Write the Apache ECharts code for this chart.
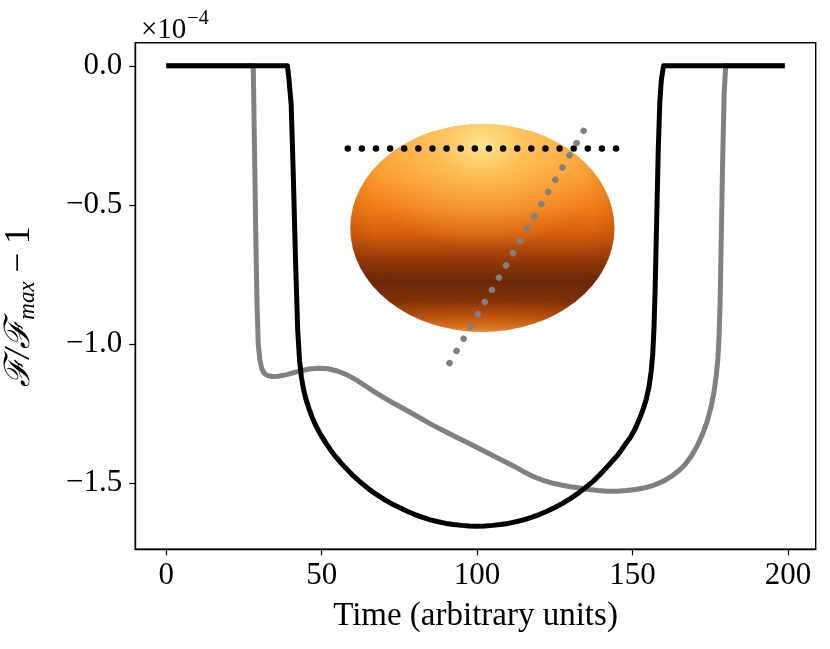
<!DOCTYPE html>
<html>
<head>
<meta charset="utf-8">
<script src="https://cdn.jsdelivr.net/npm/echarts@6/dist/echarts.min.js"></script>
<style>
html,body{margin:0;padding:0;background:#fff;}
#chart{width:830px;height:649px;}
</style>
</head>
<body>
<div id="chart"></div>
<script>
// ---- data (units: time, and flux in 1e-4) ----
const xTicks = [0, 50, 100, 150, 200];
const yTicks = [0, -0.5, -1.0, -1.5];

const blackCurve = [
  [0,0],[39,0],[39.5,-0.05],[40.2,-0.14],[40.9,-0.4],[41.6,-0.7],[42.3,-0.95],[42.9,-1.06],
  [43.5,-1.12],[44.2,-1.165],[45,-1.2],[46,-1.235],[47,-1.265],[48,-1.29],[49,-1.312],
  [50,-1.332],[51.5,-1.358],[53,-1.383],[54.5,-1.405],[56,-1.425],[58,-1.449],[60,-1.472],
  [62.5,-1.497],[65,-1.52],[67.5,-1.54],[70,-1.558],[72.5,-1.574],[75,-1.588],[77.5,-1.601],
  [80,-1.613],[82.5,-1.623],[85,-1.632],[87.5,-1.639],[90,-1.645],[92.5,-1.649],[95,-1.652],
  [97.5,-1.654],[100,-1.655],[102.5,-1.654],[105,-1.652],[107.5,-1.649],[110,-1.645],
  [112.5,-1.639],[115,-1.632],[117.5,-1.623],[120,-1.613],[122.5,-1.601],[125,-1.588],
  [127.5,-1.573],[130,-1.556],[132.5,-1.537],[135,-1.515],[137.5,-1.492],[139.4,-1.471],
  [142,-1.44],[144.8,-1.405],[146.5,-1.38],[148,-1.356],[149.5,-1.333],[151,-1.302],
  [152.3,-1.268],[153.4,-1.235],[154.4,-1.2],[155.3,-1.155],[156,-1.1],[156.5,-1.04],
  [156.9,-0.95],[157.3,-0.8],[157.8,-0.55],[158.3,-0.3],[158.8,-0.13],[159.3,-0.05],
  [160,0],[199,0]
];

const greyCurve = [
  [0,0],[28,0],[28.4,-0.3],[28.8,-0.6],[29.2,-0.85],[29.6,-1.0],[30.1,-1.055],[30.7,-1.088],
  [31.5,-1.105],[32.5,-1.113],[34,-1.117],[36,-1.116],[38.5,-1.111],[41,-1.103],[43.5,-1.096],
  [46,-1.09],[49,-1.087],[52,-1.089],[55,-1.097],[58,-1.11],[61,-1.128],[64,-1.15],
  [67,-1.172],[70,-1.193],[73,-1.212],[76,-1.23],[79,-1.249],[82,-1.268],[85,-1.287],
  [88,-1.305],[91,-1.322],[94,-1.339],[97,-1.355],[100,-1.372],[103,-1.389],[106,-1.406],
  [109,-1.423],[112,-1.44],[115,-1.459],[118,-1.476],[121,-1.489],[124,-1.499],[127,-1.507],
  [130,-1.513],[133,-1.518],[136,-1.523],[139,-1.527],[142,-1.529],[145,-1.529],[148,-1.527],
  [151,-1.523],[154,-1.517],[157,-1.507],[160,-1.493],[163,-1.472],[165,-1.455],[167,-1.432],
  [169,-1.402],[171,-1.362],[172.5,-1.325],[174,-1.28],[175.2,-1.23],[176.2,-1.175],
  [177,-1.11],[177.5,-1.05],[177.9,-0.96],[178.2,-0.85],[178.6,-0.6],[179,-0.35],
  [179.5,-0.1],[180,0],[199,0]
];

const blackPath = [[58.4,-0.297],[144.8,-0.297]];
const greyPath = [[91.15,-1.069],[134.3,-0.2336]];

// star: centre x, centre y, semi-axis x, semi-axis y (data units)
const star = [[101.7,-0.583,42.5,0.374]];

const xRange = [-9.95, 208.95];
const yRange = [-1.738, 0.083];

const FONT = '"Liberation Serif", "DejaVu Serif", serif';

const chart = echarts.init(document.getElementById('chart'), null, {renderer:'canvas'});

const starFill = new echarts.graphic.LinearGradient(0,0,0,1,[
  {offset:0.00,color:'#f9a63e'},
  {offset:0.10,color:'#fcab40'},
  {offset:0.25,color:'#fb982a'},
  {offset:0.40,color:'#f07c18'},
  {offset:0.53,color:'#d65e0c'},
  {offset:0.66,color:'#923808'},
  {offset:0.76,color:'#6a2708'},
  {offset:0.85,color:'#833209'},
  {offset:0.92,color:'#c4540e'},
  {offset:0.97,color:'#ee8020'},
  {offset:1.00,color:'#fba848'}
]);
const starGlow = new echarts.graphic.RadialGradient(0.5,0.1,0.5,[
  {offset:0,color:'rgba(255,232,150,0.95)'},
  {offset:0.35,color:'rgba(255,212,110,0.55)'},
  {offset:1,color:'rgba(255,190,90,0)'}
]);
const starLimb = new echarts.graphic.RadialGradient(0.5,0.42,0.56,[
  {offset:0,color:'rgba(120,40,0,0)'},
  {offset:0.75,color:'rgba(120,40,0,0)'},
  {offset:1,color:'rgba(120,40,0,0.22)'}
]);

function fmt(v){
  return (v < 0 ? '\u2212' : '') + Math.abs(v).toFixed(1);
}

chart.setOption({
  animation:false,
  backgroundColor:'#fff',
  title:{
    text:'{a|\u00d710}{b|\u22124}',
    left:136, top:3,
    textStyle:{
      fontWeight:'normal',
      rich:{
        a:{fontFamily:FONT,fontSize:29,fontWeight:'normal',color:'#000',lineHeight:34,padding:[10,0,0,0]},
        b:{fontFamily:FONT,fontSize:20,fontWeight:'normal',color:'#000',lineHeight:20,padding:[0,0,12,1]}
      }
    }
  },
  grid:{left:135.3,right:14.3,top:42.7,bottom:99.7,outerBoundsMode:'none',containLabel:false,
        show:true,borderColor:'#000',borderWidth:1.4,backgroundColor:'transparent'},
  xAxis:{
    type:'value', min:xRange[0], max:xRange[1],
    name:'Time (arbitrary units)', nameLocation:'middle', nameGap:51,
    nameTextStyle:{fontFamily:FONT,fontSize:33,color:'#000'},
    axisLine:{show:true,onZero:false,lineStyle:{color:'#000',width:1.4}},
    axisTick:{show:true,inside:false,length:6,lineStyle:{color:'#000',width:1.2},customValues:xTicks},
    axisLabel:{fontFamily:FONT,fontSize:31,color:'#000',margin:11,customValues:xTicks,formatter:v=>String(v)},
    splitLine:{show:false}
  },
  yAxis:{
    type:'value', min:yRange[0], max:yRange[1],
    name:'{f|\u2131/\u2131}{s|max}{g| \u2212 1}', nameLocation:'middle', nameGap:96, nameRotate:90,
    nameTextStyle:{
      padding:[0,22,0,0],
      rich:{
        f:{fontFamily:FONT,fontSize:35,fontStyle:'italic',color:'#000'},
        s:{fontFamily:FONT,fontSize:23,fontStyle:'italic',color:'#000',padding:[16,0,0,0]},
        g:{fontFamily:FONT,fontSize:35,color:'#000'}
      }
    },
    axisLine:{show:true,onZero:false,lineStyle:{color:'#000',width:1.4}},
    axisTick:{show:true,inside:false,length:6,lineStyle:{color:'#000',width:1.2},customValues:yTicks},
    axisLabel:{fontFamily:FONT,fontSize:31,color:'#000',margin:13,customValues:yTicks,formatter:fmt},
    splitLine:{show:false}
  },
  series:[
    {
      type:'line', data:greyCurve, symbol:'none', smooth:false,
      lineStyle:{color:'#808080',width:5,join:'round',cap:'butt'}, z:2
    },
    {
      type:'line', data:blackCurve, symbol:'none', smooth:false,
      lineStyle:{color:'#000',width:5,join:'round',cap:'butt'}, z:3
    },
    {
      type:'custom', data:star, z:4, clip:false,
      renderItem:function(params, api){
        const c = api.coord([api.value(0), api.value(1)]);
        const s = api.size([api.value(2), api.value(3)]);
        const rx = s[0], ry = s[1];
        const mk = fill => ({type:'circle', x:c[0], y:c[1], scaleX:rx/ry, scaleY:1, shape:{cx:0,cy:0,r:ry}, style:{fill:fill}});
        return {type:'group', children:[mk(starFill), mk(starGlow), mk(starLimb)]};
      }
    },
    {
      type:'line', data:blackPath, symbol:'none', z:5,
      lineStyle:{color:'#000',width:6.5,type:[0.001,14.12],cap:'round'}
    },
    {
      type:'line', data:greyPath, symbol:'none', z:6,
      lineStyle:{color:'#808080',width:6.5,type:[0.001,14.12],cap:'round'}
    }
  ]
});
</script>
</body>
</html>
